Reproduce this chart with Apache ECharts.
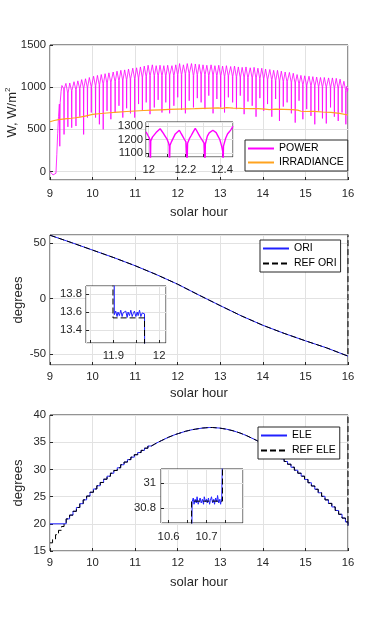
<!DOCTYPE html>
<html>
<head>
<meta charset="utf-8">
<script src="https://cdn.jsdelivr.net/npm/echarts@6/dist/echarts.min.js"></script>
<style>
  html, body { margin: 0; padding: 0; background: #fff; }
  #chart { width: 385px; height: 619px; }
</style>
</head>
<body>
<div id="chart"></div>
<script>
// ---- POWER / IRRADIANCE (top panel) ----
const powerRampHours  = [9.00, 9.04, 9.07, 9.11, 9.14, 9.16, 9.18, 9.20, 9.22, 9.23, 9.24, 9.26, 9.28];
const powerRampValues = [0, -10, -40, -40, -20, 200, 450, 650, 800, 300, 820, 950, 1020];

// one dip per tracker move, with the band top / bottom around it
const powerDipHours = [
  9.33, 9.42, 9.51, 9.61, 9.70, 9.79, 9.88, 9.97, 10.07, 10.16,
  10.25, 10.34, 10.43, 10.53, 10.62, 10.71, 10.80, 10.89, 10.99, 11.08,
  11.17, 11.26, 11.35, 11.45, 11.54, 11.63, 11.72, 11.81, 11.91, 12.00,
  12.09, 12.18, 12.27, 12.37, 12.46, 12.55, 12.64, 12.73, 12.83, 12.92,
  13.01, 13.10, 13.19, 13.29, 13.38, 13.47, 13.56, 13.65, 13.75, 13.84,
  13.93, 14.02, 14.11, 14.21, 14.30, 14.39, 14.48, 14.57, 14.67, 14.76,
  14.85, 14.94, 15.03, 15.13, 15.22, 15.31, 15.40, 15.49, 15.59, 15.68,
  15.77, 15.86, 15.95
];
const powerPeaks = [
  1030, 1045, 1050, 1065, 1075, 1090, 1100, 1115, 1130, 1140,
  1150, 1160, 1170, 1180, 1190, 1200, 1205, 1215, 1225, 1230,
  1240, 1250, 1260, 1265, 1255, 1260, 1255, 1260, 1255, 1265,
  1280, 1265, 1280, 1280, 1275, 1270, 1265, 1260, 1265, 1255,
  1260, 1250, 1255, 1245, 1250, 1240, 1235, 1240, 1230, 1235,
  1225, 1225, 1215, 1210, 1200, 1200, 1190, 1180, 1175, 1165,
  1150, 1140, 1135, 1130, 1125, 1120, 1115, 1115, 1110, 1110,
  1105, 1095, 1070
];
const powerValleys = [
  980, 930, 960, 970, 985, 990, 1000, 1010, 1020, 1030,
  1040, 1050, 1060, 1070, 1080, 1085, 1090, 1100, 1105, 1110,
  1120, 1130, 1140, 1140, 1135, 1140, 1135, 1145, 1140, 1150,
  1150, 1160, 1165, 1140, 1150, 1145, 1150, 1140, 1145, 1140,
  1135, 1130, 1135, 1130, 1125, 1120, 1120, 1115, 1110, 1110,
  1105, 1100, 1095, 1090, 1080, 1075, 1070, 1065, 1060, 1050,
  1040, 1030, 1025, 1020, 1015, 1010, 1005, 1005, 1000, 995,
  990, 980, 960
];
const powerDips = [
  440, 530, 520, 540, 650, 440, 640, 700, 640, 560,
  500, 720, 620, 700, 780, 640, 750, 690, 640, 800,
  720, 820, 680, 760, 850, 700, 820, 690, 780, 880,
  730, 690, 840, 760, 870, 820, 740, 900, 690, 860,
  760, 700, 880, 820, 740, 900, 680, 830, 780, 650,
  870, 720, 800, 650, 860, 600, 770, 820, 690, 580,
  840, 620, 740, 660, 560, 720, 630, 570, 760, 650,
  600, 700, 560
];
const powerEndHours  = [15.97, 15.985, 16.0];
const powerEndValues = [1010, 950, 985];

const irrHours = [9.0, 9.1, 9.2, 9.3, 9.4, 9.5, 9.6, 9.7, 9.8, 9.9,
  10.0, 10.2, 10.4, 10.6, 10.8, 11.0, 11.2, 11.4, 11.6, 11.8,
  12.0, 12.2, 12.4, 12.6, 12.8, 12.95, 13.05, 13.15, 13.3, 13.5,
  13.7, 13.9, 14.05, 14.15, 14.3, 14.5, 14.7, 14.82, 14.9, 15.0,
  15.2, 15.4, 15.6, 15.8, 16.0];
const irrValues = [590, 605, 615, 622, 628, 632, 638, 645, 655, 665,
  678, 688, 697, 705, 712, 718, 724, 728, 732, 736,
  739, 742, 745, 750, 753, 755, 748, 757, 752, 749,
  747, 745, 740, 735, 740, 737, 733, 728, 715, 712,
  714, 706, 701, 690, 670];

// inset: POWER between 12 and 12.46 h
const inset1Hours = [11.985, 11.995, 12.003, 12.007, 12.009, 12.011, 12.02, 12.03, 12.04, 12.05,
  12.062, 12.07, 12.08, 12.09, 12.10, 12.108, 12.112, 12.113, 12.116, 12.125,
  12.135, 12.145, 12.155, 12.167, 12.175, 12.185, 12.195, 12.203, 12.208, 12.209,
  12.212, 12.222, 12.232, 12.242, 12.254, 12.262, 12.272, 12.282, 12.292, 12.302,
  12.306, 12.307, 12.309, 12.32, 12.33, 12.34, 12.35, 12.36, 12.368, 12.378,
  12.388, 12.398, 12.404, 12.406, 12.408, 12.42, 12.43, 12.44, 12.45, 12.46];
const inset1Power = [1258, 1232, 1212, 1192, 1000, 1188, 1218, 1232, 1252, 1262,
  1282, 1266, 1246, 1224, 1202, 1176, 1148, 1000, 1156, 1186,
  1214, 1242, 1250, 1270, 1250, 1226, 1200, 1182, 1168, 1000,
  1172, 1206, 1230, 1256, 1284, 1266, 1240, 1216, 1196, 1172,
  1162, 1000, 1166, 1226, 1250, 1262, 1270, 1282, 1252, 1226,
  1200, 1150, 1108, 1000, 1150, 1210, 1242, 1258, 1276, 1300];

// ---- ORI (middle panel) ----
const oriHours  = [9.0, 9.5, 10.0, 10.5, 11.0, 11.5, 12.0, 12.5, 13.0, 13.5, 14.0, 14.5, 15.0, 15.5, 16.0];
const oriValues = [57.0, 50.4, 43.6, 36.8, 29.5, 21.5, 12.8, 3.0, -6.5, -15.8, -24.2, -31.5, -38.2, -44.6, -52.0];
const refOriEndHours  = [16.0];
const refOriEndValues = [70];

const inset2OriHours = [11.84, 11.9015, 11.902, 11.905, 11.908, 11.910, 11.913, 11.916, 11.919, 11.921,
  11.924, 11.927, 11.930, 11.932, 11.935, 11.938, 11.941, 11.943, 11.946, 11.949,
  11.952, 11.954, 11.957, 11.960, 11.963, 11.966, 11.968, 11.9685, 12.02];
const inset2OriValues = [14.6, 14.6, 13.57, 13.61, 13.55, 13.60, 13.56, 13.62, 13.55, 13.59,
  13.57, 13.61, 13.54, 13.60, 13.56, 13.62, 13.55, 13.58, 13.61, 13.55,
  13.60, 13.56, 13.62, 13.55, 13.59, 13.57, 13.58, 12.9, 12.9];
const inset2RefHours  = [11.84, 11.899, 11.899, 11.968, 11.968, 12.02];
const inset2RefValues = [14.65, 14.65, 13.535, 13.535, 12.45, 12.45];

// ---- ELE (bottom panel) ----
const eleHours = [9.0,
  9.38, 9.46, 9.54, 9.62, 9.70, 9.78, 9.86, 9.94, 10.02, 10.10,
  10.18, 10.26, 10.34, 10.42, 10.50, 10.58, 10.66, 10.74, 10.82, 10.90,
  10.98, 11.06, 11.14, 11.22, 11.30, 11.38, 11.46, 11.54, 11.62, 11.70,
  11.78, 11.86, 11.94, 12.02, 12.10, 12.18, 12.26, 12.34, 12.42, 12.50,
  12.58, 12.66, 12.74, 12.82, 12.90, 12.98, 13.06, 13.14, 13.22, 13.30,
  13.38, 13.46, 13.54, 13.62, 13.70, 13.78, 13.86, 13.94, 14.02, 14.10,
  14.18, 14.26, 14.34, 14.42, 14.50, 14.58, 14.66, 14.74, 14.82, 14.90,
  14.98, 15.06, 15.14, 15.22, 15.30, 15.38, 15.46, 15.54, 15.62, 15.70,
  15.78, 15.86, 15.94, 16.0];
const eleValues = [20.0,
  20.9, 21.6, 22.3, 23.0, 23.7, 24.4, 25.1, 25.8, 26.4, 27.0,
  27.6, 28.2, 28.75, 29.3, 29.8, 30.3, 30.86, 31.35, 31.8, 32.25,
  32.7, 33.1, 33.5, 33.9, 34.3, 34.65, 35.0, 35.3, 35.6, 35.9,
  36.15, 36.4, 36.6, 36.8, 37.0, 37.15, 37.3, 37.4, 37.5, 37.6,
  37.65, 37.7, 37.7, 37.65, 37.6, 37.5, 37.4, 37.25, 37.1, 36.9,
  36.7, 36.45, 36.2, 35.9, 35.6, 35.3, 34.95, 34.6, 34.2, 33.8,
  33.35, 32.9, 32.45, 31.95, 31.45, 30.95, 30.4, 29.85, 29.3, 28.75,
  28.15, 27.55, 26.95, 26.35, 25.7, 25.05, 24.4, 23.75, 23.1, 22.45,
  21.75, 21.05, 20.35, 19.7];
const refEleStartHours  = [9.0, 9.06, 9.13, 9.20, 9.27, 9.33];
const refEleStartValues = [16.5, 17.2, 18.0, 18.8, 19.5, 20.2];
const refEleEndHours  = [16.0];
const refEleEndValues = [45];

const inset3EleHours = [10.58, 10.6605, 10.662, 10.665, 10.667, 10.670, 10.673, 10.675, 10.678, 10.681,
  10.683, 10.686, 10.689, 10.692, 10.694, 10.697, 10.700, 10.702, 10.705, 10.708,
  10.710, 10.713, 10.716, 10.719, 10.721, 10.724, 10.727, 10.729, 10.732, 10.735,
  10.737, 10.740, 10.7425, 10.796];
const inset3EleValues = [30.4, 30.4, 30.85, 30.88, 30.83, 30.87, 30.84, 30.89, 30.83, 30.86,
  30.88, 30.84, 30.87, 30.83, 30.89, 30.85, 30.87, 30.84, 30.88, 30.83,
  30.86, 30.89, 30.84, 30.87, 30.83, 30.88, 30.85, 30.90, 30.84, 30.87,
  30.83, 30.88, 31.35, 31.35];
const inset3RefHours  = [10.58, 10.6605, 10.6605, 10.742, 10.742, 10.796];
const inset3RefValues = [30.4, 30.4, 30.855, 30.855, 31.35, 31.35];

const xTicks = [9, 10, 11, 12, 13, 14, 15, 16];

// ---- styling ----
const FONT = 'Liberation Sans, Arial, sans-serif';
const INK = '#262626';
const GRIDLINE = '#e2e2e2';
const MAGENTA = '#ff00ff';
const ORANGE = '#ffa31f';
const BLUE = '#2020ff';

function pairs(xs, ys) {
  return xs.map((x, i) => [x, ys[i]]);
}

function powerData() {
  const pts = pairs(powerRampHours, powerRampValues);
  powerDipHours.forEach((h, i) => {
    pts.push([h - 0.046, powerPeaks[i]]);
    pts.push([h - 0.005, powerValleys[i]]);
    pts.push([h, powerDips[i]]);
    pts.push([h + 0.005, powerValleys[i]]);
  });
  return pts.concat(pairs(powerEndHours, powerEndValues));
}

function gridBox(rect, z) {
  return Object.assign({
    show: true, borderColor: INK, borderWidth: 1,
    backgroundColor: '#fff', containLabel: false, outerBoundsMode: 'none', z: z
  }, rect);
}

const plainNumber = v => String(+(+v).toFixed(3));

function axisCommon(z) {
  return {
    type: 'value', z: z,
    axisLine: { show: false, onZero: false },
    axisTick: { show: true, inside: true, length: 3, lineStyle: { color: INK, width: 1 } },
    splitLine: { show: true, lineStyle: { color: GRIDLINE, width: 1 } },
    nameMoveOverlap: false,
    nameTextStyle: { color: INK, fontFamily: FONT, fontSize: 13 }
  };
}

function mainX(gridIndex, nameGap, labelMargin) {
  return Object.assign(axisCommon(1), {
    gridIndex: gridIndex, min: xTicks[0], max: xTicks[xTicks.length - 1], interval: 1,
    name: 'solar hour', nameLocation: 'middle', nameGap: nameGap,
    axisLabel: { color: INK, fontFamily: FONT, fontSize: 11.3, margin: labelMargin, formatter: plainNumber }
  });
}

function mainY(gridIndex, opts, showMin, showMax) {
  const a = Object.assign(axisCommon(1), { gridIndex: gridIndex, nameLocation: 'middle' }, opts);
  a.axisLabel = { color: INK, fontFamily: FONT, fontSize: 11.3, margin: 4,
    showMinLabel: showMin, showMaxLabel: showMax, formatter: plainNumber };
  return a;
}

function insetAxis(gridIndex, min, max, splitNumber, keep, margin) {
  const a = Object.assign(axisCommon(21), { gridIndex: gridIndex, min: min, max: max, splitNumber: splitNumber });
  a.axisLabel = {
    color: INK, fontFamily: FONT, fontSize: 11.3, margin: margin,
    showMinLabel: false, showMaxLabel: false,
    formatter: function (v) { return keep(v) ? plainNumber(v) : ''; }
  };
  return a;
}

const isTenth = v => Math.abs(v * 10 - Math.round(v * 10)) < 1e-6;
const isEvenTenth = v => isTenth(v) && Math.round(v * 10) % 2 === 0;
const isFifth = v => Math.abs(v * 5 - Math.round(v * 5)) < 1e-6;
const isHundred = v => Math.abs(v / 100 - Math.round(v / 100)) < 1e-6;

function line(name, xi, data, color, extra) {
  return Object.assign({
    name: name, type: 'line', xAxisIndex: xi, yAxisIndex: xi, data: data,
    symbol: 'none', showSymbol: false, silent: true, animation: false, clip: true,
    lineStyle: { color: color, width: 1 }, itemStyle: { color: color }, z: 2
  }, extra || {});
}

const dashed = { color: '#000', width: 1, type: [6, 3] };

function legendBox(names, left, top, itemGap) {
  return {
    data: names, orient: 'vertical', left: left, top: top,
    padding: [3, 4, 3, 2], itemWidth: 26, itemHeight: 10, itemGap: itemGap,
    borderColor: INK, borderWidth: 1, backgroundColor: '#fff', z: 30,
    selectedMode: false,
    itemStyle: { opacity: 0 },
    textStyle: { color: '#000', fontFamily: FONT, fontSize: 10.5 }
  };
}

const option = {
  animation: false,
  backgroundColor: '#fff',
  grid: [
    gridBox({ left: 50, top: 45, width: 298, height: 135 }, 0),
    gridBox({ left: 146, top: 122, width: 87, height: 35 }, 20),
    gridBox({ left: 50, top: 235, width: 298, height: 130 }, 0),
    gridBox({ left: 86, top: 286, width: 80, height: 57 }, 20),
    gridBox({ left: 50, top: 415, width: 298, height: 136 }, 0),
    gridBox({ left: 161, top: 469, width: 82, height: 54 }, 20)
  ],
  xAxis: [
    mainX(0, 26, 8),
    insetAxis(1, 11.985, 12.46, 5, isEvenTenth, 7),
    mainX(2, 22, 6),
    insetAxis(3, 11.84, 12.015, 3, isTenth, 7),
    mainX(4, 25, 6),
    insetAxis(5, 10.58, 10.796, 4, isTenth, 8)
  ],
  yAxis: [
    mainY(0, {
      min: -100, max: 1500, splitNumber: 3, nameGap: 30,
      name: 'W, W/m{sup|2}',
      nameTextStyle: { color: INK, fontFamily: FONT, fontSize: 13,
        rich: { sup: { fontSize: 8, color: INK, fontFamily: FONT, padding: [0, 0, 8, 0] } } }
    }, false, true),
    insetAxis(1, 1068, 1332, 3, isHundred, 3),
    mainY(2, { min: -60, max: 57.2, splitNumber: 2, name: 'degrees', nameGap: 25 }, false, false),
    insetAxis(3, 13.256, 13.889, 3, isFifth, 4),
    mainY(4, { min: 15, max: 40, interval: 5, name: 'degrees', nameGap: 25 }, true, true),
    insetAxis(5, 30.68, 31.112, 2, isFifth, 5)
  ],
  legend: [
    legendBox(['POWER', 'IRRADIANCE'], 245, 140, 3),
    legendBox(['ORI', 'REF ORI'], 260, 240, 4),
    legendBox(['ELE', 'REF ELE'], 258, 427, 4)
  ],
  series: [
    line('POWER', 0, powerData(), MAGENTA, { lineStyle: { color: MAGENTA, width: 0.8 } }),
    line('IRRADIANCE', 0, pairs(irrHours, irrValues), ORANGE, { lineStyle: { color: ORANGE, width: 1.2 } }),
    line('inset-power', 1, pairs(inset1Hours, inset1Power), MAGENTA, { z: 22, lineStyle: { color: MAGENTA, width: 1.4 } }),

    line('ORI', 2, pairs(oriHours, oriValues), BLUE),
    line('REF ORI', 2, pairs(oriHours.concat(refOriEndHours), oriValues.concat(refOriEndValues)), '#000', { lineStyle: dashed }),
    line('inset-ori', 3, pairs(inset2OriHours, inset2OriValues), BLUE, { z: 22 }),
    line('inset-ref-ori', 3, pairs(inset2RefHours, inset2RefValues), '#000', { z: 22, lineStyle: dashed }),

    line('ELE', 4, pairs(eleHours, eleValues), BLUE, { step: 'end' }),
    line('REF ELE', 4,
      pairs(refEleStartHours.concat(eleHours.slice(1), refEleEndHours),
            refEleStartValues.concat(eleValues.slice(1), refEleEndValues)),
      '#000', { step: 'end', lineStyle: dashed }),
    line('inset-ele', 5, pairs(inset3EleHours, inset3EleValues), BLUE, { z: 22 }),
    line('inset-ref-ele', 5, pairs(inset3RefHours, inset3RefValues), '#000', { z: 22, lineStyle: dashed })
  ]
};

const chart = echarts.init(document.getElementById('chart'), null, { renderer: 'canvas' });
chart.setOption(option);
</script>
</body>
</html>
